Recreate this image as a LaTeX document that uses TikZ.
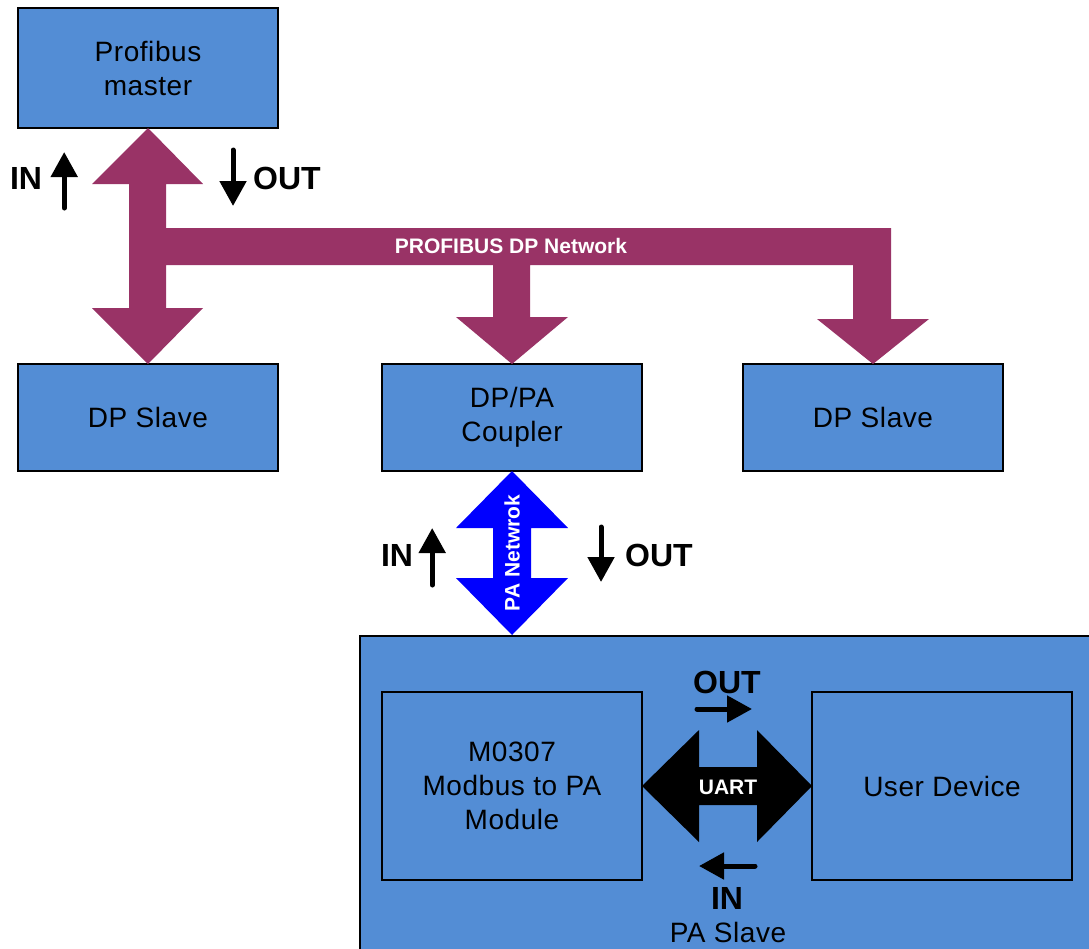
\documentclass[tikz,border=0pt]{standalone}
\usepackage{fontspec}
\setmainfont{Liberation Sans}
\newfontfamily\boxfont[LetterSpace=2]{Liberation Sans}
\usetikzlibrary{arrows.meta}
\definecolor{boxblue}{RGB}{83,141,213}
\definecolor{dpplum}{RGB}{153,51,102}
\tikzset{
  unit/.style={draw,line width=1.6pt,fill=boxblue,inner sep=0pt,outer sep=0pt,
    minimum width=260pt,align=center,font=\boxfont\fontsize{28}{34}\selectfont},
  dirlabel/.style={font=\bfseries\fontsize{32}{36}\selectfont,inner sep=0pt},
  netlabel/.style={text=white,font=\bfseries\fontsize{21}{24}\selectfont,inner sep=0pt},
  dirarrow/.style={line width=5pt,line cap=round,-{Triangle[width=26pt,length=25pt]}}
}
\begin{document}
\begin{tikzpicture}[x=1pt,y=-1pt]
  \useasboundingbox (0,0) rectangle (1089,948);
  \node[unit,minimum width=740pt,minimum height=324pt] (paslave) at (730,798) {};
  \node[font=\boxfont\fontsize{28}{34}\selectfont,inner sep=0pt] (paslave-l) at (728,932) {PA Slave};
  \node[unit,minimum height=120pt] (master) at (148,68) {Profibus\\master};
  \node[unit,minimum height=107pt] (dp-1) at (148,417.5) {DP Slave};
  \node[unit,minimum height=107pt] (coupler) at (512,417.5) {DP/PA\\Coupler};
  \node[unit,minimum height=107pt] (dp-2) at (873,417.5) {DP Slave};
  \node[unit,minimum height=188pt] (module) at (512,786) {M0307\\Modbus to PA\\Module};
  \node[unit,minimum height=188pt] (user) at (942,786) {User Device};
  \fill[dpplum] (master.south) -- (203,184) -- (166,184) -- (166,228) -- (891,228) -- (891,319)
    -- (929,319) -- (dp-2.north) -- (817,319) -- (853,319) -- (853,265) -- (530,265) -- (530,317)
    -- (568,317) -- (coupler.north) -- (456,317) -- (493,317) -- (493,265) -- (166,265) -- (166,308)
    -- (203,308) -- (dp-1.north) -- (92,308) -- (129,308) -- (129,184) -- (92,184) -- cycle;
  \node[netlabel] (dpnet) at (511,246) {PROFIBUS DP Network};
  \coordinate (pa-tip) at (512,635);
  \fill[blue] (coupler.south) -- (568,528) -- (531,528) -- (531,578) -- (568,578) -- (pa-tip)
    -- (456,578) -- (493,578) -- (493,528) -- (456,528) -- cycle;
  \node[netlabel,rotate=90] (panet) at (512,553) {PA Netwrok};
  \fill[black] (module.east) -- (699,730) -- (699,767) -- (757,767) -- (757,730) -- (user.west)
    -- (757,842) -- (757,805) -- (699,805) -- (699,842) -- cycle;
  \node[netlabel] (uart) at (728,787) {UART};
  \node[dirlabel] (in-1) at (26,178) {IN};
  \node[dirlabel] (out-1) at (287,178) {OUT};
  \node[dirlabel] (in-2) at (397,555) {IN};
  \node[dirlabel] (out-2) at (659,555) {OUT};
  \node[dirlabel] (out-3) at (727,682) {OUT};
  \node[dirlabel] (in-3) at (727,898) {IN};
  \draw[dirarrow] ([shift={(22,30)}]in-1.east) -- ++(0,-56);
  \draw[dirarrow] ([shift={(-20,-28)}]out-1.west) -- ++(0,56);
  \draw[dirarrow] ([shift={(19,30)}]in-2.east) -- ++(0,-57);
  \draw[dirarrow] ([shift={(-24,-28)}]out-2.west) -- ++(0,55);
  \draw[dirarrow] ([shift={(-30,27)}]out-3.center) -- ++(55,0);
  \draw[dirarrow] ([shift={(28,-32)}]in-3.center) -- ++(-56,0);
\end{tikzpicture}
\end{document}
